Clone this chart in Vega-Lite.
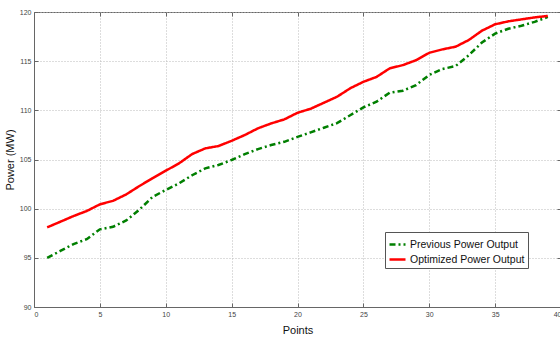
{
  "$schema": "https://vega.github.io/schema/vega-lite/v6.json",
  "width": 527,
  "height": 295,
  "autosize": {"type": "none"},
  "padding": {"left": 34, "top": 12, "right": 0, "bottom": 31},
  "background": "white",
  "config": {
    "view": {"stroke": "#666", "strokeWidth": 1},
    "font": "Liberation Sans"
  },
  "data": {
    "values": [
      {"x": 1, "y": 95.0, "s": "Previous Power Output"},
      {"x": 2, "y": 95.7, "s": "Previous Power Output"},
      {"x": 3, "y": 96.4, "s": "Previous Power Output"},
      {"x": 4, "y": 96.9, "s": "Previous Power Output"},
      {"x": 5, "y": 97.9, "s": "Previous Power Output"},
      {"x": 6, "y": 98.16, "s": "Previous Power Output"},
      {"x": 7, "y": 98.8, "s": "Previous Power Output"},
      {"x": 8, "y": 99.9, "s": "Previous Power Output"},
      {"x": 9, "y": 101.2, "s": "Previous Power Output"},
      {"x": 10, "y": 101.9, "s": "Previous Power Output"},
      {"x": 11, "y": 102.57, "s": "Previous Power Output"},
      {"x": 12, "y": 103.4, "s": "Previous Power Output"},
      {"x": 13, "y": 104.1, "s": "Previous Power Output"},
      {"x": 14, "y": 104.44, "s": "Previous Power Output"},
      {"x": 15, "y": 104.95, "s": "Previous Power Output"},
      {"x": 16, "y": 105.55, "s": "Previous Power Output"},
      {"x": 17, "y": 106.06, "s": "Previous Power Output"},
      {"x": 18, "y": 106.47, "s": "Previous Power Output"},
      {"x": 19, "y": 106.8, "s": "Previous Power Output"},
      {"x": 20, "y": 107.3, "s": "Previous Power Output"},
      {"x": 21, "y": 107.76, "s": "Previous Power Output"},
      {"x": 22, "y": 108.23, "s": "Previous Power Output"},
      {"x": 23, "y": 108.7, "s": "Previous Power Output"},
      {"x": 24, "y": 109.5, "s": "Previous Power Output"},
      {"x": 25, "y": 110.3, "s": "Previous Power Output"},
      {"x": 26, "y": 110.88, "s": "Previous Power Output"},
      {"x": 27, "y": 111.8, "s": "Previous Power Output"},
      {"x": 28, "y": 112.0, "s": "Previous Power Output"},
      {"x": 29, "y": 112.57, "s": "Previous Power Output"},
      {"x": 30, "y": 113.6, "s": "Previous Power Output"},
      {"x": 31, "y": 114.2, "s": "Previous Power Output"},
      {"x": 32, "y": 114.5, "s": "Previous Power Output"},
      {"x": 33, "y": 115.6, "s": "Previous Power Output"},
      {"x": 34, "y": 116.9, "s": "Previous Power Output"},
      {"x": 35, "y": 117.8, "s": "Previous Power Output"},
      {"x": 36, "y": 118.3, "s": "Previous Power Output"},
      {"x": 37, "y": 118.6, "s": "Previous Power Output"},
      {"x": 38, "y": 119.0, "s": "Previous Power Output"},
      {"x": 39, "y": 119.5, "s": "Previous Power Output"},
      {"x": 1, "y": 98.1, "s": "Optimized Power Output"},
      {"x": 2, "y": 98.67, "s": "Optimized Power Output"},
      {"x": 3, "y": 99.25, "s": "Optimized Power Output"},
      {"x": 4, "y": 99.76, "s": "Optimized Power Output"},
      {"x": 5, "y": 100.44, "s": "Optimized Power Output"},
      {"x": 6, "y": 100.8, "s": "Optimized Power Output"},
      {"x": 7, "y": 101.45, "s": "Optimized Power Output"},
      {"x": 8, "y": 102.3, "s": "Optimized Power Output"},
      {"x": 9, "y": 103.1, "s": "Optimized Power Output"},
      {"x": 10, "y": 103.86, "s": "Optimized Power Output"},
      {"x": 11, "y": 104.6, "s": "Optimized Power Output"},
      {"x": 12, "y": 105.55, "s": "Optimized Power Output"},
      {"x": 13, "y": 106.13, "s": "Optimized Power Output"},
      {"x": 14, "y": 106.37, "s": "Optimized Power Output"},
      {"x": 15, "y": 106.9, "s": "Optimized Power Output"},
      {"x": 16, "y": 107.49, "s": "Optimized Power Output"},
      {"x": 17, "y": 108.17, "s": "Optimized Power Output"},
      {"x": 18, "y": 108.67, "s": "Optimized Power Output"},
      {"x": 19, "y": 109.08, "s": "Optimized Power Output"},
      {"x": 20, "y": 109.75, "s": "Optimized Power Output"},
      {"x": 21, "y": 110.16, "s": "Optimized Power Output"},
      {"x": 22, "y": 110.77, "s": "Optimized Power Output"},
      {"x": 23, "y": 111.38, "s": "Optimized Power Output"},
      {"x": 24, "y": 112.24, "s": "Optimized Power Output"},
      {"x": 25, "y": 112.9, "s": "Optimized Power Output"},
      {"x": 26, "y": 113.4, "s": "Optimized Power Output"},
      {"x": 27, "y": 114.27, "s": "Optimized Power Output"},
      {"x": 28, "y": 114.6, "s": "Optimized Power Output"},
      {"x": 29, "y": 115.1, "s": "Optimized Power Output"},
      {"x": 30, "y": 115.85, "s": "Optimized Power Output"},
      {"x": 31, "y": 116.2, "s": "Optimized Power Output"},
      {"x": 32, "y": 116.47, "s": "Optimized Power Output"},
      {"x": 33, "y": 117.15, "s": "Optimized Power Output"},
      {"x": 34, "y": 118.1, "s": "Optimized Power Output"},
      {"x": 35, "y": 118.75, "s": "Optimized Power Output"},
      {"x": 36, "y": 119.05, "s": "Optimized Power Output"},
      {"x": 37, "y": 119.25, "s": "Optimized Power Output"},
      {"x": 38, "y": 119.45, "s": "Optimized Power Output"},
      {"x": 39, "y": 119.6, "s": "Optimized Power Output"}
    ]
  },
  "layer": [
    {
      "mark": {"type": "line", "opacity": 0},
      "encoding": {
        "x": {
          "field": "x", "type": "quantitative",
          "scale": {"domain": [0, 40], "nice": false, "zero": false},
          "axis": {"orient": "top", "title": null, "labels": false, "domain": false, "grid": false,
            "values": [0, 5, 10, 15, 20, 25, 30, 35, 40], "tickColor": "#666", "tickSize": -4}
        },
        "y": {
          "field": "y", "type": "quantitative",
          "scale": {"domain": [90, 120], "nice": false, "zero": false},
          "axis": {"orient": "right", "title": null, "labels": false, "domain": false, "grid": false,
            "values": [90, 95, 100, 105, 110, 115, 120], "tickColor": "#666", "tickSize": -4}
        },
        "detail": {"field": "s", "type": "nominal"}
      }
    },
    {
      "mark": {"type": "line", "strokeWidth": 2.5, "clip": true},
      "encoding": {
        "x": {
          "field": "x", "type": "quantitative",
          "scale": {"domain": [0, 40], "nice": false, "zero": false},
          "axis": {
            "orient": "bottom",
            "title": "Points", "titleFont": "Liberation Sans", "titleFontSize": 11, "titleFontWeight": "normal", "titleColor": "#111",
            "titlePadding": 7,
            "values": [0, 5, 10, 15, 20, 25, 30, 35, 40],
            "labelFontSize": 7, "labelColor": "#444", "labelPadding": 7,
            "domainColor": "#666", "tickColor": "#666", "tickSize": -4,
            "grid": true, "gridColor": "#bbb", "gridDash": [1, 2], "gridWidth": 1
          }
        },
        "y": {
          "field": "y", "type": "quantitative",
          "scale": {"domain": [90, 120], "nice": false, "zero": false},
          "axis": {
            "orient": "left",
            "title": "Power (MW)", "titleFont": "Liberation Sans", "titleFontSize": 11, "titleFontWeight": "normal", "titleColor": "#111",
            "titlePadding": 4,
            "values": [90, 95, 100, 105, 110, 115, 120],
            "labelFontSize": 7, "labelColor": "#444", "labelPadding": 7,
            "domainColor": "#666", "tickColor": "#666", "tickSize": -4,
            "grid": true, "gridColor": "#bbb", "gridDash": [1, 2], "gridWidth": 1
          }
        },
        "color": {
          "field": "s", "type": "nominal",
          "scale": {"domain": ["Previous Power Output", "Optimized Power Output"], "range": ["#007f00", "#ff0000"]},
          "legend": {
            "title": null, "orient": "none", "legendX": 351, "legendY": 220,
            "fillColor": "white", "strokeColor": "#555", "padding": 3,
            "symbolType": "stroke", "symbolSize": 256, "symbolStrokeWidth": 2.5,
            "labelFontSize": 10.5, "labelColor": "#111", "labelFont": "Liberation Sans",
            "rowPadding": 0, "labelOffset": 3
          }
        },
        "strokeDash": {
          "field": "s", "type": "nominal",
          "scale": {"domain": ["Previous Power Output", "Optimized Power Output"], "range": [[6, 3, 2, 3], [1, 0]]},
          "legend": null
        }
      }
    }
  ],
  "resolve": {"axis": {"x": "independent", "y": "independent"}}
}
